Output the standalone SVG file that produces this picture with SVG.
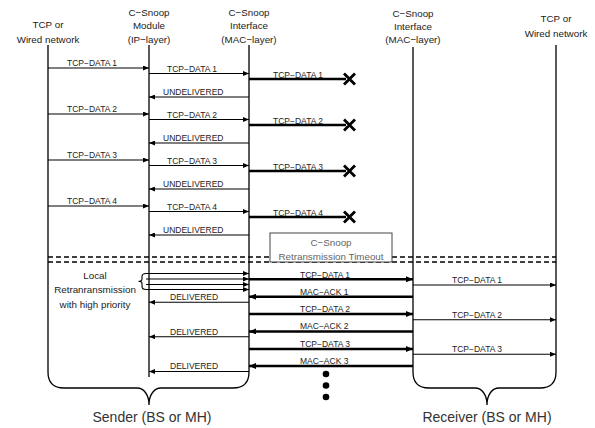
<svg xmlns="http://www.w3.org/2000/svg" width="595" height="428" viewBox="0 0 595 428">
<style>
text{font-family:"Liberation Sans",Arial,sans-serif;fill:#222}
.h{font-size:9.8px;text-anchor:middle}
.l{font-size:8.5px}
.big{font-size:14px;text-anchor:middle;fill:#333}
.bx{font-size:9.8px;text-anchor:middle;fill:#666}
.life{stroke:#000;stroke-width:1.3;fill:none}
.thin{stroke:#000;stroke-width:1.1;fill:none}
.thk{stroke:#000;stroke-width:2.5;fill:none}
.dash{stroke:#000;stroke-width:1.5;stroke-dasharray:5 3;fill:none}
.x{stroke:#000;stroke-width:2.8;fill:none}
</style>
<defs>
<marker id="ah" markerUnits="userSpaceOnUse" markerWidth="6" markerHeight="5" refX="6" refY="2.5" orient="auto"><path d="M0,0 L6,2.5 L0,5 z" fill="#000"/></marker>
<marker id="ahT" markerUnits="userSpaceOnUse" markerWidth="7" markerHeight="6" refX="7" refY="3" orient="auto"><path d="M0,0 L7,3 L0,6 z" fill="#000"/></marker>
</defs>

<g id="sender-tcp">
<text class="h" x="48" y="28">TCP or</text>
<text class="h" x="48" y="42.5">Wired network</text>
</g>
<g id="snoop-module">
<text class="h" x="149" y="16">C−Snoop</text>
<text class="h" x="149" y="29.3">Module</text>
<text class="h" x="149" y="42.5">(IP−layer)</text>
<line class="life" x1="149" y1="45" x2="149" y2="377"/>
</g>
<g id="snoop-interface">
<text class="h" x="249" y="16">C−Snoop</text>
<text class="h" x="249" y="29.3">Interface</text>
<text class="h" x="249" y="42.5">(MAC−layer)</text>
</g>
<g id="sender">
<path class="life" d="M48,45 L48,372 Q48,388 64,388 L137,388 C144,388 149,395 149,405 C149,395 154,388 161,388 L233,388 Q249,388 249,372 L249,45"/>
<text class="big" x="152" y="422">Sender (BS or MH)</text>
</g>
<g id="recv-interface">
<text class="h" x="413" y="16.5">C−Snoop</text>
<text class="h" x="413" y="29.5">Interface</text>
<text class="h" x="413" y="42.5">(MAC−layer)</text>
</g>
<g id="recv-tcp">
<text class="h" x="556" y="21.7">TCP or</text>
<text class="h" x="556" y="36.5">Wired network</text>
</g>
<g id="receiver">
<path class="life" d="M413,47 L413,372 Q413,388 429,388 L475,388 C482,388 487,395 487,405 C487,395 492,388 499,388 L540,388 Q556,388 556,372 L556,45"/>
<text class="big" x="487" y="422">Receiver (BS or MH)</text>
</g>

<g id="timeout-box">
<line class="dash" x1="48" y1="257" x2="556" y2="257"/>
<line class="dash" x1="48" y1="262" x2="556" y2="262"/>
<rect x="270" y="233" width="122" height="29" fill="#fff" stroke="#444" stroke-width="1"/>
<text class="bx" x="331" y="245.5">C−Snoop</text>
<text class="bx" x="331" y="259.5">Retransmission Timeout</text>
</g>

<g id="local-retx">
<text class="h" x="95" y="279">Local</text>
<text class="h" x="95" y="293">Retranransmission</text>
<text class="h" x="95" y="307.5">with high priority</text>
<path class="thin" d="M146,273.5 Q142,273.5 142,276.5 L142,279 Q142,281.3 138.5,281.3 Q142,281.3 142,283.6 L142,286.5 Q142,289.5 146,289.5"/>
</g>

<g id="connectors">
<line class="thin" x1="48" y1="68" x2="149" y2="68" marker-end="url(#ah)"/>
<text class="l" x="67" y="66">TCP−DATA 1</text>
<line class="thin" x1="149" y1="73.5" x2="249" y2="73.5" marker-end="url(#ah)"/>
<text class="l" x="167" y="71.5">TCP−DATA 1</text>
<line class="thk" x1="249" y1="79" x2="346" y2="79"/>
<path class="x" d="M344,73.5 L355,84.5 M355,73.5 L344,84.5"/>
<text class="l" x="273" y="78">TCP−DATA 1</text>
<line class="thin" x1="249" y1="97" x2="149" y2="97" marker-end="url(#ah)"/>
<text class="l" x="163" y="94.8">UNDELIVERED</text>

<line class="thin" x1="48" y1="114" x2="149" y2="114" marker-end="url(#ah)"/>
<text class="l" x="67" y="112">TCP−DATA 2</text>
<line class="thin" x1="149" y1="119.5" x2="249" y2="119.5" marker-end="url(#ah)"/>
<text class="l" x="167" y="117.5">TCP−DATA 2</text>
<line class="thk" x1="249" y1="125" x2="346" y2="125"/>
<path class="x" d="M344,119.5 L355,130.5 M355,119.5 L344,130.5"/>
<text class="l" x="273" y="124">TCP−DATA 2</text>
<line class="thin" x1="249" y1="143" x2="149" y2="143" marker-end="url(#ah)"/>
<text class="l" x="163" y="140.8">UNDELIVERED</text>

<line class="thin" x1="48" y1="160" x2="149" y2="160" marker-end="url(#ah)"/>
<text class="l" x="67" y="158">TCP−DATA 3</text>
<line class="thin" x1="149" y1="165.5" x2="249" y2="165.5" marker-end="url(#ah)"/>
<text class="l" x="167" y="163.5">TCP−DATA 3</text>
<line class="thk" x1="249" y1="171" x2="346" y2="171"/>
<path class="x" d="M344,165.5 L355,176.5 M355,165.5 L344,176.5"/>
<text class="l" x="273" y="170">TCP−DATA 3</text>
<line class="thin" x1="249" y1="189" x2="149" y2="189" marker-end="url(#ah)"/>
<text class="l" x="163" y="186.8">UNDELIVERED</text>

<line class="thin" x1="48" y1="206" x2="149" y2="206" marker-end="url(#ah)"/>
<text class="l" x="67" y="204">TCP−DATA 4</text>
<line class="thin" x1="149" y1="211.5" x2="249" y2="211.5" marker-end="url(#ah)"/>
<text class="l" x="167" y="209.5">TCP−DATA 4</text>
<line class="thk" x1="249" y1="217" x2="346" y2="217"/>
<path class="x" d="M344,211.5 L355,222.5 M355,211.5 L344,222.5"/>
<text class="l" x="273" y="216">TCP−DATA 4</text>
<line class="thin" x1="249" y1="235" x2="149" y2="235" marker-end="url(#ah)"/>
<text class="l" x="163" y="232.8">UNDELIVERED</text>

<line class="thin" x1="146" y1="273.5" x2="249" y2="273.5" marker-end="url(#ah)"/>
<line class="thin" x1="146" y1="279" x2="249" y2="279" marker-end="url(#ah)"/>
<line class="thin" x1="146" y1="284.5" x2="249" y2="284.5" marker-end="url(#ah)"/>
<line class="thin" x1="146" y1="289.5" x2="249" y2="289.5" marker-end="url(#ah)"/>

<line class="thk" x1="249" y1="279.3" x2="413" y2="279.3" marker-end="url(#ahT)"/>
<text class="l" x="300" y="277.5">TCP−DATA 1</text>
<line class="thin" x1="413" y1="285" x2="556" y2="285" marker-end="url(#ah)"/>
<text class="l" x="452" y="283">TCP−DATA 1</text>
<line class="thk" x1="413" y1="296.7" x2="249" y2="296.7" marker-end="url(#ahT)"/>
<text class="l" x="300" y="294.5">MAC−ACK 1</text>
<line class="thin" x1="249" y1="302.3" x2="149" y2="302.3" marker-end="url(#ah)"/>
<text class="l" x="170" y="300.2">DELIVERED</text>

<line class="thk" x1="249" y1="314" x2="413" y2="314" marker-end="url(#ahT)"/>
<text class="l" x="300" y="312.3">TCP−DATA 2</text>
<line class="thin" x1="413" y1="319.7" x2="556" y2="319.7" marker-end="url(#ah)"/>
<text class="l" x="452" y="317.7">TCP−DATA 2</text>
<line class="thk" x1="413" y1="331.4" x2="249" y2="331.4" marker-end="url(#ahT)"/>
<text class="l" x="300" y="329.4">MAC−ACK 2</text>
<line class="thin" x1="249" y1="336.7" x2="149" y2="336.7" marker-end="url(#ah)"/>
<text class="l" x="170" y="334.6">DELIVERED</text>

<line class="thk" x1="249" y1="349" x2="413" y2="349" marker-end="url(#ahT)"/>
<text class="l" x="300" y="347.3">TCP−DATA 3</text>
<line class="thin" x1="413" y1="354.3" x2="556" y2="354.3" marker-end="url(#ah)"/>
<text class="l" x="452" y="352.3">TCP−DATA 3</text>
<line class="thk" x1="413" y1="366" x2="249" y2="366" marker-end="url(#ahT)"/>
<text class="l" x="300" y="364">MAC−ACK 3</text>
<line class="thin" x1="249" y1="371.5" x2="149" y2="371.5" marker-end="url(#ah)"/>
<text class="l" x="170" y="369.4">DELIVERED</text>

<circle cx="326" cy="374" r="3.3" fill="#000"/>
<circle cx="326" cy="385.5" r="3.3" fill="#000"/>
<circle cx="326" cy="397" r="3.3" fill="#000"/>
</g>
</svg>
